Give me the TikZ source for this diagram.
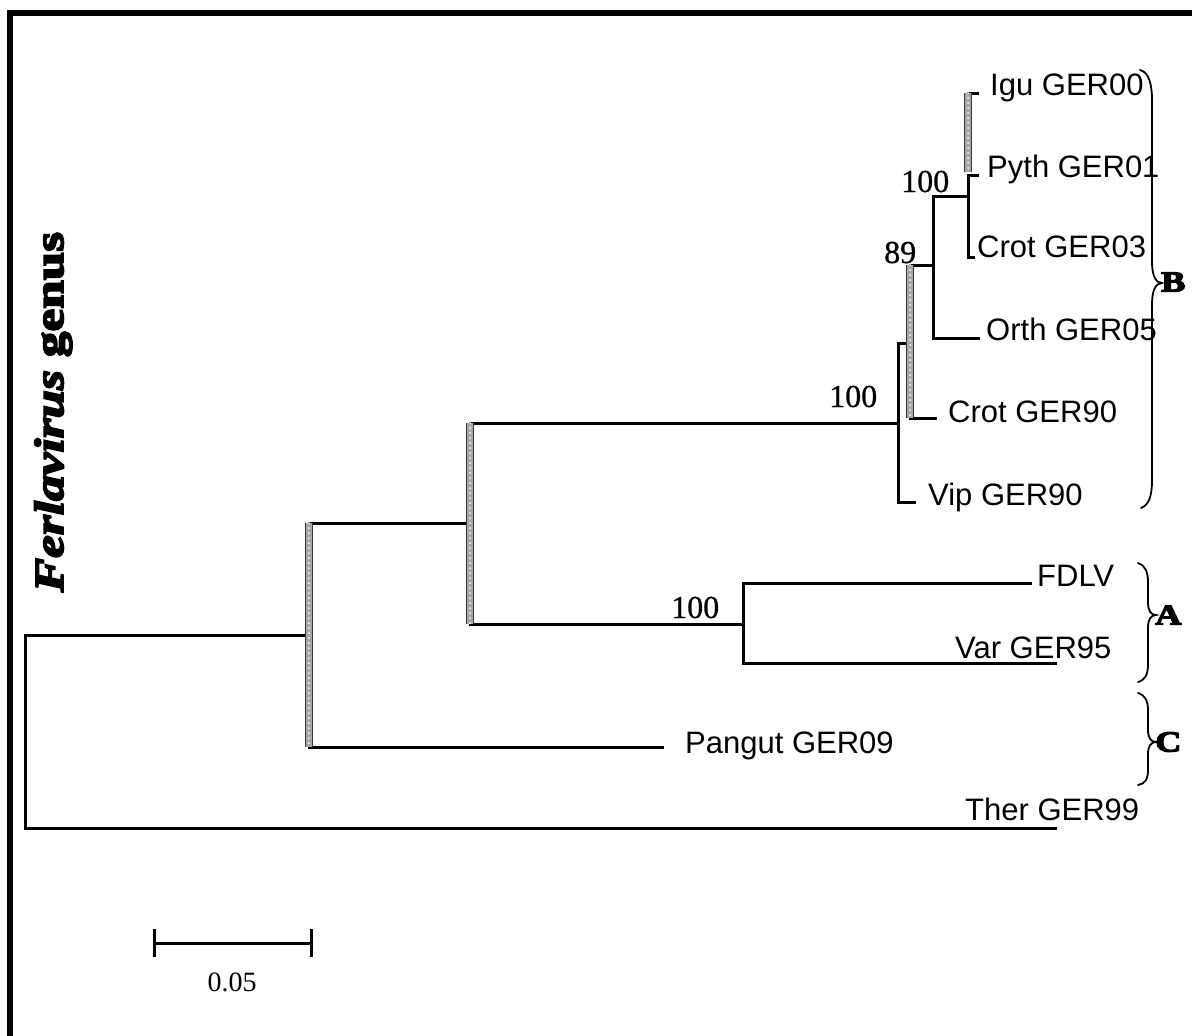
\documentclass[tikz,border=0pt]{standalone}
\usepackage{fontspec}
\setmainfont{Liberation Serif}
\newfontfamily\lsans{Liberation Sans}
\newfontfamily\poster[FakeBold=4.5,FakeStretch=1.25]{Liberation Serif}
\newfontfamily\bootserif[FakeBold=0.8]{Liberation Serif}
\begin{document}
\begin{tikzpicture}[x=1pt,y=-1pt,
  br/.style={line width=3pt,line cap=rect},
  chk/.style={draw=gray!45!black,line width=8pt,
     postaction={draw=gray!70,line width=6pt},
     postaction={draw=white,line width=2pt,line cap=round,dash pattern=on 0pt off 5pt}},
  leaf/.style={inner sep=0pt,anchor=base west,font=\lsans\fontsize{31}{36}\selectfont},
  boot/.style={inner sep=0pt,anchor=base west,font=\bootserif\fontsize{32}{36}\selectfont},
  grp/.style={inner sep=0pt,anchor=west,font=\poster\bfseries\fontsize{29}{32}\selectfont},
  brace/.style={line width=1.8pt,line cap=round}]
\useasboundingbox (0,0) rectangle (1192,1036);
\fill[white] (0,0) rectangle (1192,1036);
% frame
\draw[line width=6pt] (10,1036) -- (10,13) -- (1192,13);
% coordinates
\coordinate (rt) at (25,635); \coordinate (rb) at (25,828);
\coordinate (n1) at (309,635); \coordinate (n1t) at (309,523); \coordinate (n1b) at (309,747);
\coordinate (n2) at (470,523); \coordinate (n2t) at (470,423); \coordinate (n2b) at (470,624);
\coordinate (n3) at (743,624); \coordinate (n3t) at (743,583); \coordinate (n3b) at (743,663);
\coordinate (n4) at (898,423); \coordinate (n4t) at (898,343); \coordinate (n4b) at (898,502);
\coordinate (n5) at (910,343); \coordinate (n5t) at (910,265); \coordinate (n5b) at (910,418);
\coordinate (n6) at (933,265); \coordinate (n6t) at (933,196); \coordinate (n6b) at (933,338);
\coordinate (n7) at (968,196); \coordinate (n7m) at (968,175); \coordinate (n7b) at (968,257);
\coordinate (n7t) at (968,93); \coordinate (n7c) at (968,172);
\coordinate (eIgu) at (977,93); \coordinate (ePyth) at (977,175); \coordinate (eCrot3) at (973,257);
\coordinate (eOrth) at (978,338); \coordinate (eCrot9) at (935,418); \coordinate (eVip) at (914,502);
\coordinate (eFDLV) at (1030,583); \coordinate (eVar) at (1055,663);
\coordinate (ePang) at (662,747); \coordinate (eTher) at (1055,828);
% solid branches
\draw[br] (rt) -- (rb);
\draw[br] (rt) -- (n1);
\draw[br] (rb) -- (eTher);
\draw[br] (n1t) -- (n2);
\draw[br] (n1b) -- (ePang);
\draw[br] (n2t) -- (n4);
\draw[br] (n2b) -- (n3);
\draw[br] (n3t) -- (n3b);
\draw[br] (n3t) -- (eFDLV);
\draw[br] (n3b) -- (eVar);
\draw[br] (n4t) -- (n4b);
\draw[br] (n4t) -- (n5);
\draw[br] (n4b) -- (eVip);
\draw[br] (n5t) -- (n6);
\draw[br] (n5b) -- (eCrot9);
\draw[br] (n6t) -- (n6b);
\draw[br] (n6b) -- (eOrth);
\draw[br] (n6t) -- (n7);
\draw[br] (n7m) -- (n7b);
\draw[br] (n7t) -- (eIgu);
\draw[br] (n7m) -- (ePyth);
\draw[br] (n7b) -- (eCrot3);
% checkered verticals
\draw[chk] (n1t) -- (n1b);
\draw[chk] (n2t) -- (n2b);
\draw[chk] (n5t) -- (n5b);
\draw[chk] (n7t) -- (n7c);
% leaf labels
\node[leaf] (igu) at (990,95) {Igu GER00};
\node[leaf] (pyth) at (987,177) {Pyth GER01};
\node[leaf] (crot3) at (977,257) {Crot GER03};
\node[leaf] (orth) at (986,340) {Orth GER05};
\node[leaf] (crot9) at (948,422) {Crot GER90};
\node[leaf] (vip) at (928,505) {Vip GER90};
\node[leaf] (fdlv) at (1037,586) {FDLV};
\node[leaf] (var) at (955,658) {Var GER95};
\node[leaf] (pang) at (685,753) {Pangut GER09};
\node[leaf] (ther) at (965,820) {Ther GER99};
% bootstrap values
\node[boot] (b1) at (901,192) {100};
\node[boot] (b2) at (884,263) {89};
\node[boot] (b3) at (829,407) {100};
\node[boot] (b4) at (671,618) {100};
% braces
\draw[brace] (1140,70) .. controls (1149,72) and (1152,85) .. (1152,100) -- (1152,262)
  .. controls (1152,276) and (1156,283) .. (1162,283)
  .. controls (1156,283) and (1152,290) .. (1152,304) -- (1152,480)
  .. controls (1152,496) and (1149,505) .. (1141,508);
\draw[brace] (1138,563) .. controls (1145,565) and (1148,572) .. (1148,582) -- (1148,602)
  .. controls (1148,611) and (1151,615) .. (1156,615)
  .. controls (1151,615) and (1148,619) .. (1148,628) -- (1148,664)
  .. controls (1148,675) and (1145,680) .. (1138,682);
\draw[brace] (1138,693) .. controls (1145,695) and (1148,701) .. (1148,710) -- (1148,730)
  .. controls (1148,738) and (1151,742) .. (1156,742)
  .. controls (1151,742) and (1148,746) .. (1148,754) -- (1148,770)
  .. controls (1148,779) and (1145,784) .. (1138,785);
\node[grp] (gB) at (1161,282) {B};
\node[grp] (gA) at (1155,615) {A};
\node[grp] (gC) at (1155,742) {C};
% genus title
\node[rotate=90,anchor=base,inner sep=0pt,font=\poster\bfseries\fontsize{41}{44}\selectfont] (genus) at (63,412) {\itshape Ferlavirus \upshape genus};
% scale bar
\coordinate (s1) at (154,943); \coordinate (s2) at (311,943);
\draw[line width=3pt] (s1) -- (s2);
\draw[line width=3pt] (154,929) -- (154,957);
\draw[line width=3pt] (311,929) -- (311,957);
\node[inner sep=0pt,anchor=base,font=\fontsize{28}{32}\selectfont] (sc) at (232,991) {0.05};
\end{tikzpicture}
\end{document}
